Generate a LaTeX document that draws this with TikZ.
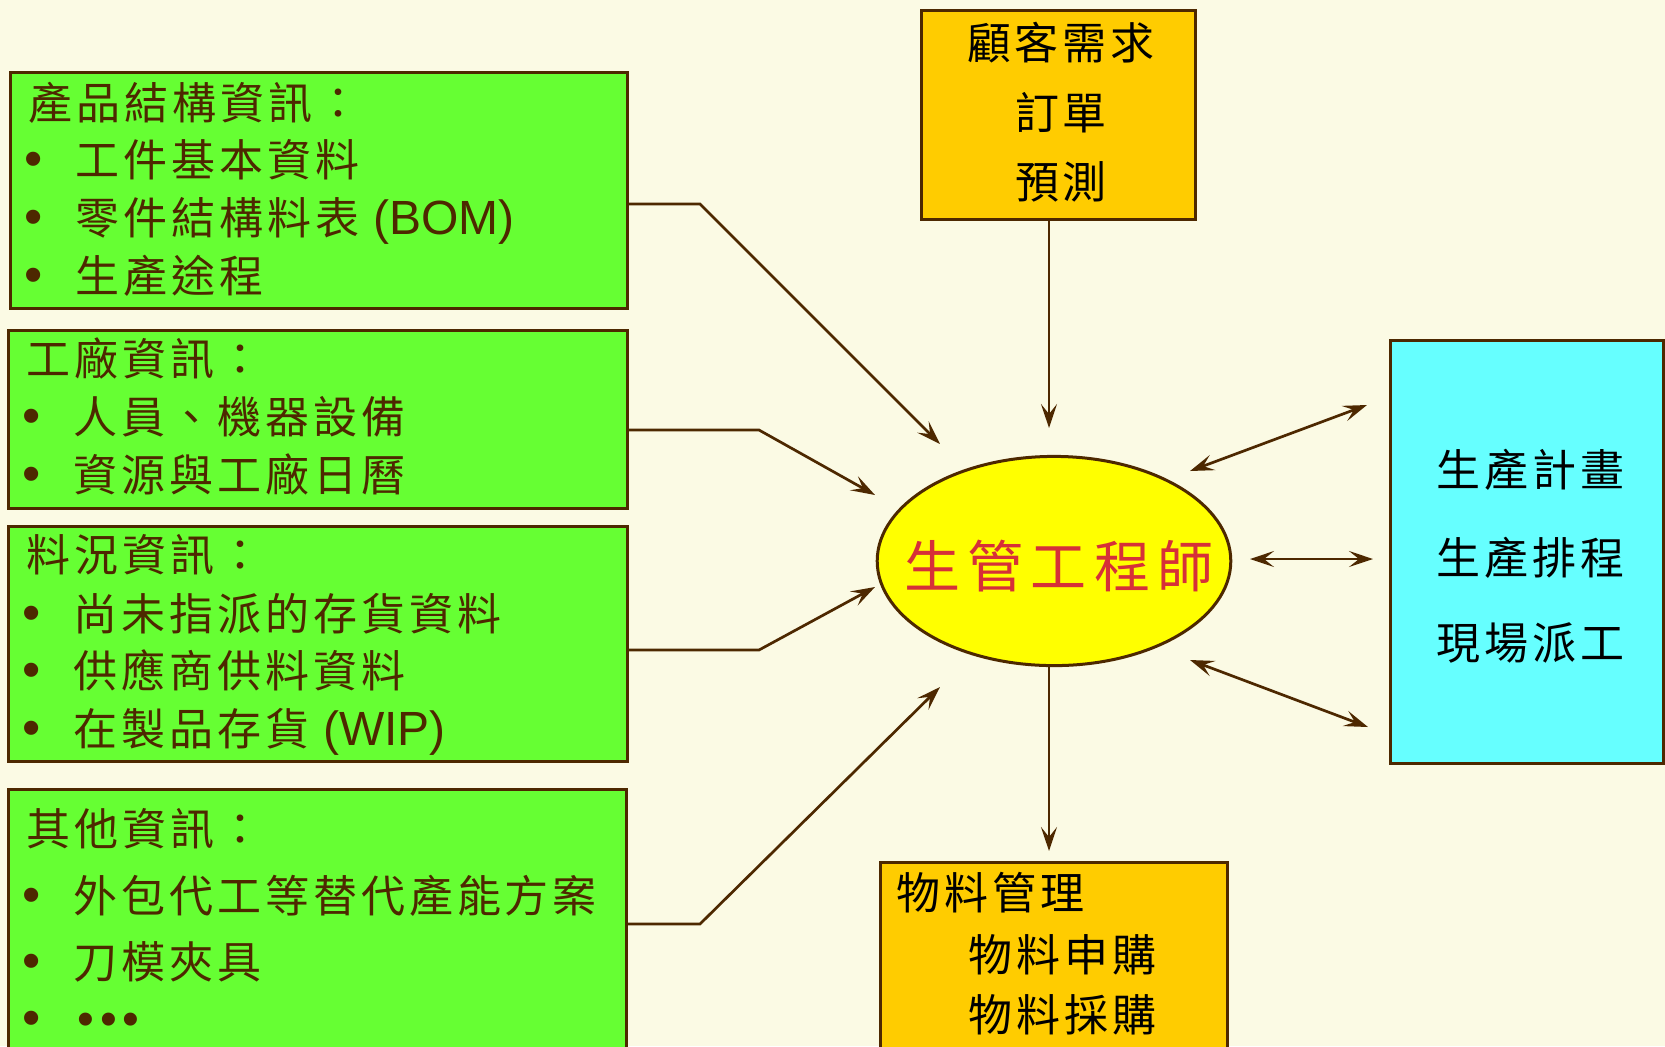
\documentclass[tikz,border=0pt]{standalone}
\usepackage{fontspec}
\setmainfont{Liberation Sans}
\newfontfamily\cjk[LetterSpace=9]{Noto Sans CJK TC}
\newfontfamily\cjkbig[LetterSpace=13]{Noto Sans CJK TC}
\newfontfamily\lat{Liberation Sans}
\usetikzlibrary{arrows.meta,shapes.geometric}
\definecolor{bgcol}{RGB}{251,250,228}
\definecolor{linecol}{RGB}{77,40,0}
\definecolor{boxgreen}{HTML}{66FF33}
\definecolor{boxorange}{HTML}{FFCC00}
\definecolor{boxcyan}{HTML}{66FFFF}
\definecolor{ellyellow}{HTML}{FFFF00}
\definecolor{engred}{RGB}{214,48,56}
\newcommand{\bul}{\makebox[25.5pt][l]{\lat\fontsize{26pt}{26pt}\selectfont •}}
\newcommand{\latbig}{\lat\fontsize{24pt}{26pt}\selectfont}
\begin{document}
\begin{tikzpicture}[x=0.5pt,y=-0.5pt,
  box/.style={draw=linecol, line width=1.5pt, rectangle, inner sep=0pt},
  gbox/.style={box, fill=boxgreen},
  obox/.style={box, fill=boxorange},
  cbox/.style={box, fill=boxcyan},
  txt/.style={inner sep=0pt, anchor=west, text height=19.4pt, text depth=2.6pt,
    font=\fontsize{22pt}{26pt}\cjk},
  gtxt/.style={txt, text=linecol},
  ctxt/.style={txt, anchor=center, text=black},
  ktxt/.style={txt, text=black},
  tip/.style={Stealth[length=12pt,width=8pt,inset=5pt]},
  arr/.style={draw=linecol, line width=1.35pt, -{Stealth[length=12pt,width=8pt,inset=5pt]}},
  darr/.style={draw=linecol, line width=1.35pt, {Stealth[length=12pt,width=8pt,inset=5pt]}-{Stealth[length=12pt,width=8pt,inset=5pt]}}
]
\useasboundingbox (0,0) rectangle (1665,1046);
\clip (0,0) rectangle (1665,1046);
\fill[bgcol] (0,0) rectangle (1665,1046);

% left boxes
\node[gbox, minimum width=308.5pt, minimum height=118pt] (b1) at (319.1,190) {};
\node[gbox, minimum width=309.5pt, minimum height=89.3pt] (b2) at (318.05,419.3) {};
\node[gbox, minimum width=309.5pt, minimum height=117.4pt] (b3) at (318.05,644.05) {};
\node[gbox, minimum width=309pt, minimum height=140.5pt] (b4) at (317.5,929.5) {};

% top, right, bottom boxes and ellipse
\node[obox, minimum width=137pt, minimum height=104.6pt] (top) at (1058.7,115.2) {};
\node[cbox, minimum width=136.5pt, minimum height=211.5pt] (right) at (1526.5,551.5) {};
\node[obox, minimum width=173.6pt, minimum height=104pt] (bot) at (1054,966) {};
\node[ellipse, draw=linecol, line width=1.5pt, fill=ellyellow, inner sep=0pt,
      minimum width=176.8pt, minimum height=104.6pt] (eng) at (1054,561) {};

% box 1 text
\node[gtxt] (h1) at (28,103) {產品結構資訊：};
\node[gtxt] (l11) at (24,160) {\bul 工件基本資料};
\node[gtxt] (l12) at (24,218) {\bul 零件結構料表 {\latbig (BOM)}};
\node[gtxt] (l13) at (24,276) {\bul 生產途程};
% box 2 text
\node[gtxt] (h2) at (26,359) {工廠資訊：};
\node[gtxt] (l21) at (22,417) {\bul 人員、機器設備};
\node[gtxt] (l22) at (22,475) {\bul 資源與工廠日曆};
% box 3 text
\node[gtxt] (h3) at (26,555) {料況資訊：};
\node[gtxt] (l31) at (22,614) {\bul 尚未指派的存貨資料};
\node[gtxt] (l32) at (22,671) {\bul 供應商供料資料};
\node[gtxt] (l33) at (22,729) {\bul 在製品存貨 {\latbig (WIP)}};
% box 4 text
\node[gtxt] (h4) at (26,829) {其他資訊：};
\node[gtxt] (l41) at (22,896) {\bul 外包代工等替代產能方案};
\node[gtxt] (l42) at (22,962) {\bul 刀模夾具};
\node[gtxt] (l43) at (22,1019) {\bul\hspace{2pt}{\lat\fontsize{24pt}{26pt}\selectfont •\hspace{3pt}•\hspace{3pt}•}};

% top box text
\node[ctxt] (t1) at (1061,43) {顧客需求};
\node[ctxt] (t2) at (1061,113) {訂單};
\node[ctxt] (t3) at (1061,182) {預測};
% right box text
\node[ktxt] (r1) at (1436,470) {生產計畫};
\node[ktxt] (r2) at (1436,558) {生產排程};
\node[ktxt] (r3) at (1436,643) {現場派工};
% bottom box text
\node[ktxt] (m1) at (896,893) {物料管理};
\node[ktxt] (m2) at (968,955) {物料申購};
\node[ktxt] (m3) at (968,1015) {物料採購};
% ellipse text
\node[inner sep=0pt, text=engred, font=\fontsize{28pt}{32pt}\cjkbig] (engt) at (1059,566) {生管工程師};

% connector points
\coordinate (k1) at (700,204);  \coordinate (e1) at (940,444);
\coordinate (k2) at (759,430);  \coordinate (e2) at (875,495);
\coordinate (k3) at (759,650);  \coordinate (e3) at (875,587);
\coordinate (k4) at (700,924);  \coordinate (e4) at (940,687);
\coordinate (etop) at (1049,428);
\coordinate (ebot) at (1049,851);
\coordinate (r1a) at (1190,471); \coordinate (r1b) at (1367,405);
\coordinate (r2a) at (1250,559); \coordinate (r2b) at (1373,559);
\coordinate (r3a) at (1190,660); \coordinate (r3b) at (1368,727);

\draw[arr] (b1.east |- k1) -- (k1) -- (e1);
\draw[arr] (b2.east |- k2) -- (k2) -- (e2);
\draw[arr] (b3.east |- k3) -- (k3) -- (e3);
\draw[arr] (b4.east |- k4) -- (k4) -- (e4);
\draw[arr] (top.south -| etop) -- (etop);
\draw[arr] (eng.south -| ebot) -- (ebot);
\draw[darr] (r1a) -- (r1b);
\draw[darr] (r2a) -- (r2b);
\draw[darr] (r3a) -- (r3b);
\end{tikzpicture}
\end{document}
